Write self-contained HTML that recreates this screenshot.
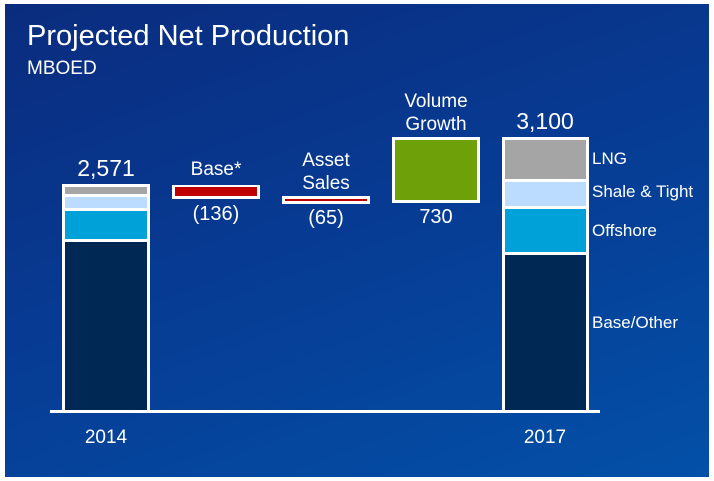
<!DOCTYPE html><html><head><style>
body{margin:0;width:714px;height:481px;background:#fff;position:relative;overflow:hidden;font-family:"Liberation Sans",Arial,sans-serif;color:#fff}
.bg{position:absolute;left:5px;top:4px;width:704px;height:473px;background:linear-gradient(160deg,#0a2c7e 0%,#073a92 45%,#0350a8 100%)}
div.a{position:absolute}
.t{position:absolute;white-space:nowrap;text-align:center}
</style></head><body>
<div class="bg"></div>
<div class="t" style="left:27px;top:20px;font-size:29px;text-align:left">Projected Net Production</div>
<div class="t" style="left:27px;top:58px;font-size:19px;text-align:left">MBOED</div>

<!-- 2014 -->
<div class="a" style="left:62px;top:184px;width:88px;height:228px;background:#fff"></div>
<div class="a" style="left:65px;top:187px;width:82px;height:7px;background:#a5a5a5"></div>
<div class="a" style="left:65px;top:197px;width:82px;height:11px;background:#bcdcff"></div>
<div class="a" style="left:65px;top:211px;width:82px;height:28px;background:#00a0d8"></div>
<div class="a" style="left:65px;top:242px;width:82px;height:170px;background:#002854"></div>
<div class="t" style="left:56px;width:100px;top:155px;font-size:23px">2,571</div>

<!-- Base -->
<div class="a" style="left:172px;top:185px;width:88px;height:14px;background:#fff"></div>
<div class="a" style="left:175px;top:187px;width:82px;height:9px;background:#c00000"></div>
<div class="t" style="left:166px;width:100px;top:159px;font-size:19px">Base*</div>
<div class="t" style="left:166px;width:100px;top:203px;font-size:20px">(136)</div>

<!-- Asset -->
<div class="a" style="left:282px;top:196px;width:88px;height:8px;background:#fff"></div>
<div class="a" style="left:285px;top:199px;width:82px;height:2px;background:#c00000"></div>
<div class="t" style="left:276px;width:100px;top:149px;font-size:19px;line-height:23px">Asset<br>Sales</div>
<div class="t" style="left:276px;width:100px;top:207px;font-size:20px">(65)</div>

<!-- Growth -->
<div class="a" style="left:392px;top:137px;width:88px;height:66px;background:#fff"></div>
<div class="a" style="left:395px;top:140px;width:82px;height:60px;background:#6ea00a"></div>
<div class="t" style="left:376px;width:120px;top:90px;font-size:19px;line-height:23px">Volume<br>Growth</div>
<div class="t" style="left:386px;width:100px;top:206px;font-size:20px">730</div>

<!-- 2017 -->
<div class="a" style="left:502px;top:137px;width:87px;height:275px;background:#fff"></div>
<div class="a" style="left:505px;top:140px;width:81px;height:39px;background:#a5a5a5"></div>
<div class="a" style="left:505px;top:182px;width:81px;height:24px;background:#bcdcff"></div>
<div class="a" style="left:505px;top:209px;width:81px;height:43px;background:#00a0d8"></div>
<div class="a" style="left:505px;top:255px;width:81px;height:155px;background:#002854"></div>
<div class="t" style="left:495px;width:100px;top:108px;font-size:23px">3,100</div>
<div class="t" style="left:592px;top:149px;font-size:17px;text-align:left">LNG</div>
<div class="t" style="left:592px;top:182px;font-size:17px;text-align:left">Shale &amp; Tight</div>
<div class="t" style="left:592px;top:221px;font-size:17px;text-align:left">Offshore</div>
<div class="t" style="left:592px;top:313px;font-size:17px;text-align:left">Base/Other</div>

<!-- baseline -->
<div class="a" style="left:50px;top:410px;width:550px;height:3px;background:#fff"></div>
<div class="t" style="left:56px;width:100px;top:427px;font-size:19px">2014</div>
<div class="t" style="left:495px;width:100px;top:427px;font-size:19px">2017</div>
</body></html>
